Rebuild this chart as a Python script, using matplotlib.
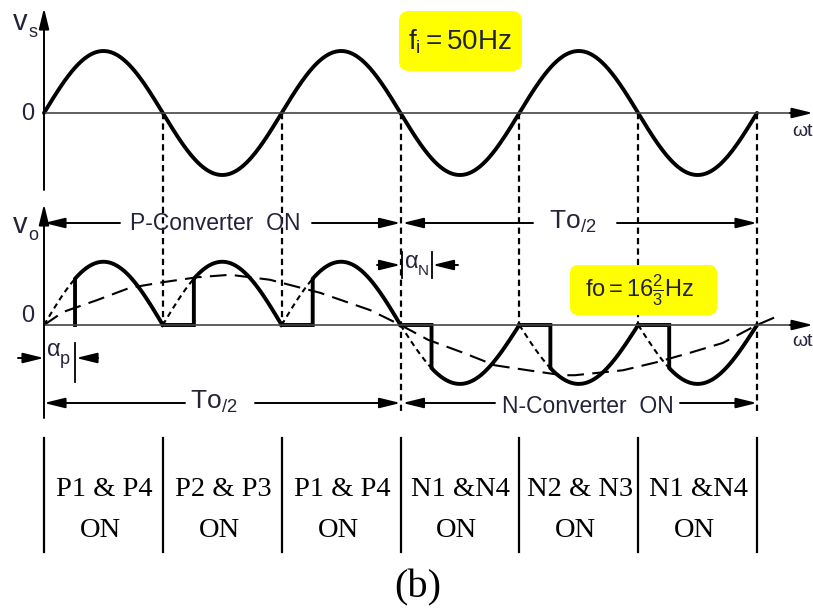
import numpy as np
import matplotlib
matplotlib.use('Agg')
import matplotlib.pyplot as plt
from matplotlib.patches import FancyBboxPatch

plt.rcParams['font.family'] = ['Liberation Sans', 'DejaVu Sans']
plt.rcParams['mathtext.fontset'] = 'custom'
plt.rcParams['mathtext.rm'] = 'Liberation Sans'
plt.rcParams['mathtext.it'] = 'Liberation Sans:italic'
plt.rcParams['mathtext.sf'] = 'Liberation Sans'
plt.rcParams['lines.scale_dashes'] = False

# ---------------- data ----------------
input_freq_text = r'$\mathrm{f_i = 50Hz}$'
output_freq_text = r'$\mathrm{fo} = 16\frac{2}{3}\mathrm{Hz}$'
half_period_text = r'$\mathrm{To}_{\mathrm{/2}}$'
input_cycles = 3
half_cycle_groups = ['P', 'P', 'P', 'N', 'N', 'N']
alpha_p_deg = 47
alpha_n_deg = 47
vs_peak = 1.0
vo_peak_p = 1.02
vo_peak_n = 0.95
# dashed fundamental of v_o (deg of input wt, p.u.)
fund_deg = [0, 29, 80, 130, 180, 232, 282, 342, 418, 494, 540,
            582, 633, 683, 733, 785, 804, 877, 928, 978, 1028, 1080, 1115]
fund_val = [0, 0.21, 0.40, 0.60, 0.69, 0.77, 0.81, 0.73, 0.52, 0.24, 0,
            -0.24, -0.44, -0.65, -0.73, -0.81, -0.81, -0.73, -0.60, -0.45, -0.29, 0, 0.16]
table_line1 = ['P1 & P4', 'P2 & P3', 'P1 & P4', 'N1 &N4', 'N2 & N3', 'N1 &N4']
table_line2 = ['ON', 'ON', 'ON', 'ON', 'ON', 'ON']
caption = '(b)'

# ---------------- layout (pixels) ----------------
W, H = 813, 608
X0, PXD = 44, 713 / 1080.0
YT, YB, PXU = 113, 325, 62.0
OFF_B = (YT - YB) / PXU
TXT = '#23233a'

def dx(deg):
    return X0 + deg * PXD

fig = plt.figure(figsize=(W / 100, H / 100), dpi=100)
ax = fig.add_axes([0, 0, 1, 1])
ax.set_xlim((0 - X0) / PXD, (W - X0) / PXD)
ax.set_ylim((YT - H) / PXU, YT / PXU)
ax.axis('off')

axp = fig.add_axes([0, 0, 1, 1])
axp.set_xlim(0, W)
axp.set_ylim(H, 0)
axp.axis('off')

def py(p):
    return (YT - p) / PXU

end_deg = 360 * input_cycles

# input voltage
t = np.linspace(0, end_deg, 1200)
ax.plot(t, vs_peak * np.sin(np.radians(t)), color='k', lw=2.8, solid_capstyle='round')

# output voltage
for k, grp in enumerate(half_cycle_groups):
    a = alpha_p_deg if grp == 'P' else alpha_n_deg
    sgn = 1 if grp == 'P' else -1
    pk = vo_peak_p if grp == 'P' else vo_peak_n
    t0 = k * 180
    tt = np.linspace(t0 + a, t0 + 180, 120)
    v = OFF_B + sgn * pk * np.abs(np.sin(np.radians(tt)))
    if k == 0:
        sx = [t0 + a] + list(tt)
        sy = [OFF_B] + list(v)
    else:
        sx = [t0, t0 + a] + list(tt)
        sy = [OFF_B, OFF_B] + list(v)
    ax.plot(sx, sy, color='k', lw=2.8, solid_joinstyle='miter', zorder=4)
    td = np.linspace(t0, t0 + a, 40)
    ax.plot(td, OFF_B + sgn * pk * np.abs(np.sin(np.radians(td))), color='k',
            lw=1.5, dashes=(4, 3), zorder=3)

# fundamental
ax.plot(fund_deg, OFF_B + np.array(fund_val), color='k', lw=1.5, dashes=(12, 6), zorder=3)

# dashed verticals at input zero crossings
for k in range(1, 2 * input_cycles + 1):
    deg = k * 180
    bottom = py(415) if deg in (540, end_deg) else OFF_B
    ax.plot([deg, deg], [0, bottom], color='k', lw=1.6, dashes=(4.5, 3), zorder=2)

# axes lines
def arrow(x1, y1, x2, y2, lw=1.4):
    axp.annotate('', xy=(x2, y2), xytext=(x1, y1),
                 arrowprops=dict(arrowstyle='-|>,head_length=0.9,head_width=0.22',
                                 lw=lw, color='k', shrinkA=0, shrinkB=0,
                                 mutation_scale=14))

arrow(X0, 190, X0, 8)
arrow(X0, 418, X0, 204)
axp.plot([X0, 800], [YT, YT], color='#444444', lw=1.2, zorder=1)
arrow(790, YT, 813, YT)
axp.plot([X0, 800], [YB, YB], color='#444444', lw=1.2, zorder=1)
arrow(790, YB, 813, YB)

# labels
axp.text(13, 30, 'v', fontsize=21, color=TXT, ha='left', va='baseline')
axp.text(28, 37, 's', fontsize=13, color=TXT, ha='left', va='baseline')
axp.text(13, 233, 'v', fontsize=21, color=TXT, ha='left', va='baseline')
axp.text(28, 240, 'o', fontsize=13, color=TXT, ha='left', va='baseline')
axp.text(28, 114, '0', fontsize=17, color=TXT, ha='center', va='center')
axp.text(28, 316, '0', fontsize=17, color=TXT, ha='center', va='center')
axp.text(792, 131, 'ωt', fontsize=14, color=TXT, ha='left', va='center')
axp.text(792, 341, 'ωt', fontsize=14, color=TXT, ha='left', va='center')

# dimension arrows
xm = dx(540)
xe = dx(end_deg)
arrow(120, 223, X0, 223)
axp.text(215, 230, 'P-Converter  ON', fontsize=16.5, color=TXT, ha='center', va='baseline')
arrow(312, 223, xm, 223)
arrow(533, 223, xm + 2, 223)
axp.text(549, 229, half_period_text, fontsize=19, color=TXT, ha='left', va='baseline')
arrow(617, 223, xe, 223)

arrow(185, 403, X0, 403)
axp.text(190, 409, half_period_text, fontsize=19, color=TXT, ha='left', va='baseline')
arrow(255, 403, xm, 403)
arrow(495, 403, xm + 2, 403)
axp.text(588, 413, 'N-Converter  ON', fontsize=16.5, color=TXT, ha='center', va='baseline')
arrow(680, 403, xe, 403)

# firing angle markers
xap = dx(alpha_p_deg)
arrow(18, 358, X0, 358)
arrow(98, 358, xap + 1, 358)
axp.plot([xap, xap], [343, 382], color='k', lw=1.3)
axp.text(47, 356, 'α', fontsize=17, color=TXT, ha='left', va='baseline')
axp.text(60, 364, 'p', fontsize=13, color=TXT, ha='left', va='baseline')

xan = dx(540 + alpha_n_deg)
arrow(377, 265, xm, 265)
arrow(458, 265, xan + 1, 265)
axp.plot([xm + 1, xm + 1], [252, 278], color='k', lw=1.3)
axp.plot([xan, xan], [252, 278], color='k', lw=1.3)
axp.text(405, 268, 'α', fontsize=17, color=TXT, ha='left', va='baseline')
axp.text(418, 275, 'N', fontsize=11, color=TXT, ha='left', va='baseline')

# yellow boxes
b1 = FancyBboxPatch((403, 15), 115, 52, boxstyle='round,pad=4,rounding_size=10',
                    fc='#ffff00', ec='none', zorder=5)
axp.add_patch(b1)
axp.text(460, 42, input_freq_text, fontsize=20, color=TXT, ha='center', va='center', zorder=6)
b2 = FancyBboxPatch((574, 269), 139, 42, boxstyle='round,pad=4,rounding_size=8',
                    fc='#ffff00', ec='none', zorder=5)
axp.add_patch(b2)
axp.text(640, 290, output_freq_text, fontsize=17, color=TXT, ha='center', va='center', zorder=6)

# table
bounds = [dx(k * 180) for k in range(len(half_cycle_groups) + 1)]
for b in bounds:
    axp.plot([b, b], [438, 552], color='k', lw=1.6)
for i in range(len(half_cycle_groups)):
    cx = (bounds[i] + bounds[i + 1]) / 2
    axp.text(cx + 1, 496, table_line1[i], fontsize=20.5, family='Liberation Serif',
             color='k', ha='center', va='baseline')
    axp.text(cx - 3, 537, table_line2[i], fontsize=20.5, family='Liberation Serif',
             color='k', ha='center', va='baseline')
axp.text(418, 597, caption, fontsize=29, family='Liberation Serif', color='k',
         ha='center', va='baseline')

fig.savefig('out.png', dpi=100)
